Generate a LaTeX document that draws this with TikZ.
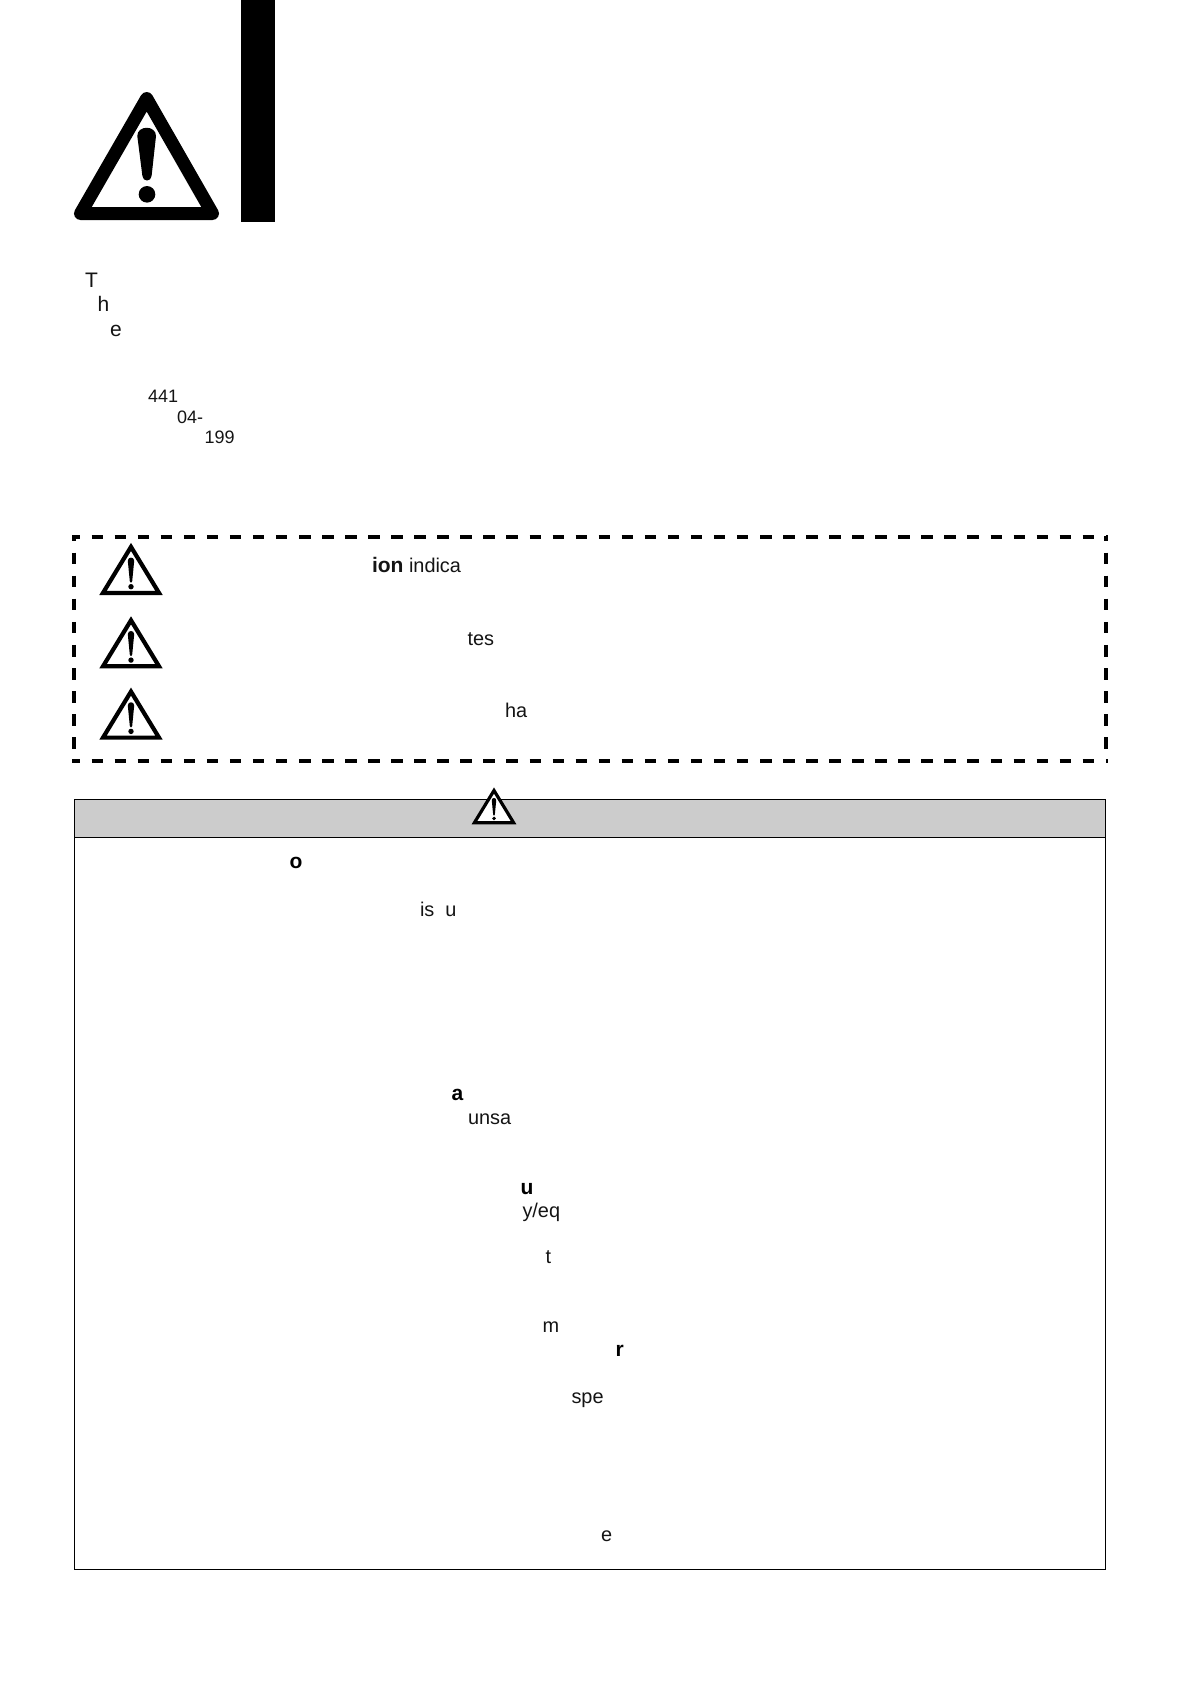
\documentclass[tikz,border=0pt]{standalone}
\usepackage{fontspec}
\setmainfont{Liberation Sans}
\newcommand{\bigtxt}{\fontsize{21}{24}\selectfont}
\newcommand{\regtxt}{\fontsize{19.9}{22}\selectfont}
\tikzset{
  txt/.style={anchor=base west,inner sep=0pt,outer sep=0pt,font=\regtxt,text=black!92},
  txtb/.style={txt,font=\bigtxt\bfseries,text=black},
  txtl/.style={txt,font=\bigtxt},
  txts/.style={txt,font=\fontsize{18}{20}\selectfont},
  dashline/.style={line width=4.2pt,black},
  frameline/.style={line width=1.3pt,black},
  warnsign/.pic={
    \draw[black,fill=white,line width=#1,miter limit=10,line join=miter]
      (0,3.6) -- (28,49.6) -- (-28,49.6) -- cycle;
    \fill[black] (-3.2,17.5) .. controls (-3.2,13.2) and (3.2,13.2) .. (3.2,17.5)
      -- (1.2,38) .. controls (1,40) and (-1,40) .. (-1.2,38) -- cycle;
    \fill[black] (0,43.4) circle (2.7);
  }
}
\begin{document}
\begin{tikzpicture}[x=1pt,y=-1pt]
\useasboundingbox[fill=white] (0,0) rectangle (1190,1684);
% big sign and bar
\fill[black] (241.3,0) rectangle (275.2,222);
\draw[black,line width=13pt,line join=round] (146.7,98.5) -- (80.5,213.5) -- (212.5,213.5) -- cycle;
\fill[black] (137.3,136) .. controls (137.3,125) and (156,125) .. (156,136)
  -- (151.6,176) .. controls (151,182) and (143,182) .. (142.4,176) -- cycle;
\fill[black] (147,194.3) circle (8.3);
% top texts
\node[txtl] (t1) at (85,287) {T};
\node[txtl] (t2) at (97.5,311) {h};
\node[txtl] (t3) at (110,336.7) {e};
\node[txts] (t4) at (148,402) {441};
\node[txts] (t5) at (177,423) {04-};
\node[txts] (t6) at (204.5,443) {199};
% dashed frame
\draw[dashline,dash pattern=on 11.5pt off 11.55pt,dash phase=3.5pt] (72,537.3) -- (1108,537.3);
\draw[dashline,dash pattern=on 11.5pt off 11.55pt,dash phase=3.5pt] (72,760.7) -- (1108,760.7);
\draw[dashline,dash pattern=on 11.6pt off 11.5pt,dash phase=6.6pt] (74,536) -- (74,749.5);
\draw[dashline,dash pattern=on 11.6pt off 11.5pt,dash phase=6.6pt] (1106,536) -- (1106,749.5);
\pic[scale=1] at (131,543.3) {warnsign=4.2pt};
\pic[scale=1] at (131,616.7) {warnsign=4.2pt};
\pic[scale=1] at (131,688) {warnsign=4.2pt};
\node[txt] (d1) at (372,572.3) {{\bigtxt\bfseries ion} indica};
\node[txt] (d2) at (467.5,645) {tes};
\node[txt] (d3) at (505,717) {ha};
% lower frame
\fill[black!20] (74.3,799.3) rectangle (1105.3,837.3);
\draw[frameline] (74.3,799.3) rectangle (1105.3,1569.3);
\draw[frameline] (74.3,837.3) -- (1105.3,837.3);
\pic[scale=0.7] at (494,788) {warnsign=3.2pt};
\node[txtb] (b1) at (289.5,868) {o};
\node[txt] (b2) at (420,916) {is\hspace{11pt}u};
\node[txtb] (b3) at (451.5,1100) {a};
\node[txt] (b4) at (468,1124) {unsa};
\node[txtb] (b5) at (520.5,1194) {u};
\node[txt] (b6) at (522.5,1217.7) {y/eq};
\node[txt] (b7) at (545.5,1263.5) {t};
\node[txt] (b8) at (542.5,1332.3) {m};
\node[txtb] (b9) at (615.5,1356.7) {r};
\node[txt] (b10) at (571.5,1403) {spe};
\node[txt] (b11) at (601,1541.7) {e};
\end{tikzpicture}
\end{document}
